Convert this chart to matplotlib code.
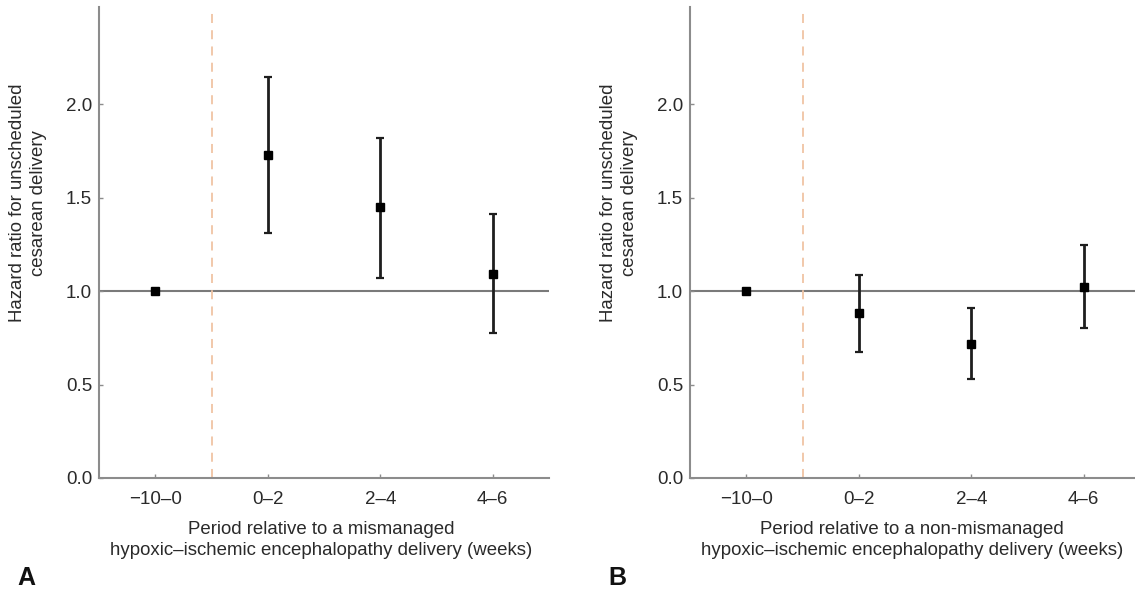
import matplotlib
matplotlib.use("Agg")
import matplotlib.pyplot as plt

plt.rcParams['font.family'] = ['Liberation Sans', 'DejaVu Sans']

periods = ["\u221210\u20130", "0\u20132", "2\u20134", "4\u20136"]

# panel A: mismanaged HIE delivery
hr_a = [1.00, 1.73, 1.45, 1.09]
lo_a = [1.00, 1.31, 1.07, 0.775]
hi_a = [1.00, 2.145, 1.82, 1.41]

# panel B: non-mismanaged HIE delivery
hr_b = [1.00, 0.883, 0.718, 1.02]
lo_b = [1.00, 0.676, 0.532, 0.80]
hi_b = [1.00, 1.087, 0.907, 1.248]

xlabels = ["Period relative to a mismanaged\nhypoxic\u2013ischemic encephalopathy delivery (weeks)",
           "Period relative to a non-mismanaged\nhypoxic\u2013ischemic encephalopathy delivery (weeks)"]
ylabel = "Hazard ratio for unscheduled\ncesarean delivery"
panel_letters = ["A", "B"]

W, H = 1135, 591
fig = plt.figure(figsize=(W / 100, H / 100), dpi=100)

spine_col = "#8c8c8c"
txt_col = "#2a2a2a"


def draw_panel(left_px, hr, lo, hi, xlabel, letter):
    ax = fig.add_axes([left_px / W, 1 - 478 / H, 450 / W, 471 / H])
    x = list(range(len(periods)))
    ax.axhline(1.0, color="#7a7a7a", lw=1.5, zorder=1)
    ax.axvline(0.5, color="#f0c4a4", lw=1.3, ls=(0, (5, 4)), zorder=1)
    yerr = [[h - l for h, l in zip(hr, lo)], [u - h for h, u in zip(hr, hi)]]
    # reference period has no interval
    ax.errorbar(x[1:], hr[1:], yerr=[yerr[0][1:], yerr[1][1:]], fmt="none",
                ecolor="#1e1e1e", elinewidth=2, capsize=3.2, capthick=1.6, zorder=2)
    ax.plot(x, hr, ls="none", marker="s", ms=6, color="black", zorder=3)
    ax.set_xlim(-0.5, 3.5)
    ax.set_ylim(0, 2.52)
    ax.set_xticks(x)
    ax.set_xticklabels(periods)
    ax.set_yticks([0, 0.5, 1.0, 1.5, 2.0])
    ax.set_yticklabels(["0.0", "0.5", "1.0", "1.5", "2.0"])
    ax.tick_params(direction="in", length=3, width=1, color=spine_col,
                   labelsize=13.5, labelcolor=txt_col)
    ax.tick_params(axis="x", pad=9)
    ax.tick_params(axis="y", pad=5)
    for s in ["top", "right"]:
        ax.spines[s].set_visible(False)
    for s in ["left", "bottom"]:
        ax.spines[s].set_color(spine_col)
        ax.spines[s].set_linewidth(1.5)
    fig.text((left_px + 222) / W, 1 - 540 / H, xlabel, ha="center", va="center",
             fontsize=13.4, color=txt_col, linespacing=1.3)
    fig.text((left_px - 71) / W, 1 - 203 / H, ylabel, ha="center", va="center",
             rotation=90, fontsize=13.4, color=txt_col, linespacing=1.3)
    fig.text((left_px - 82) / W, 1 - 578 / H, letter, ha="left", va="center",
             fontsize=18, fontweight="bold", color="#111111")
    return ax


draw_panel(99, hr_a, lo_a, hi_a, xlabels[0], panel_letters[0])
draw_panel(690, hr_b, lo_b, hi_b, xlabels[1], panel_letters[1])

fig.savefig("out.png", dpi=100, facecolor="white")
